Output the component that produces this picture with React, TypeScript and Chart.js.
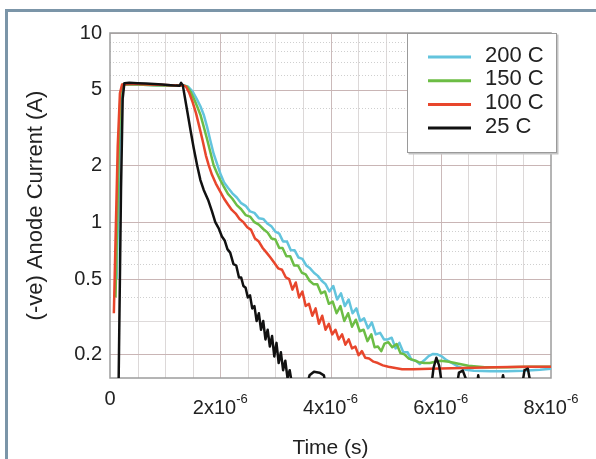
import React, { useEffect, useRef } from "react";
import { Chart, registerables } from "chart.js";

Chart.register(...registerables);

// ---------- data (time in microseconds, current in A) ----------
const seriesLabels = ["200 C", "150 C", "100 C", "25 C"];
const seriesColors = ["#63c4dd", "#6cbd45", "#e8462c", "#111111"];

const yTickValues = [0.2, 0.5, 1, 2, 5, 10];
const xTickValuesMicro = [0, 2, 4, 6, 8];
const xTickBase = ["0", "2x10", "4x10", "6x10", "8x10"];
const xTickExp = ["", "-6", "-6", "-6", "-6"];

const curve200C: [number, number][] = [
  [0.12, 0.5], [0.15, 1.2], [0.18, 3.0], [0.21, 4.9], [0.25, 5.35], [0.4, 5.36], [0.6, 5.33], [0.8, 5.3],
  [1.0, 5.28], [1.2, 5.27], [1.33, 5.3], [1.42, 5.2], [1.5, 4.9], [1.57, 4.5], [1.64, 4.1], [1.7, 3.7],
  [1.76, 3.2], [1.82, 2.7], [1.88, 2.3], [1.95, 2.0], [2.01, 1.78], [2.07, 1.62], [2.14, 1.52], [2.22, 1.42],
  [2.3, 1.35], [2.38, 1.26], [2.46, 1.22], [2.54, 1.14], [2.62, 1.12], [2.7, 1.05], [2.78, 1.04], [2.86, 0.98],
  [2.93, 0.95], [3.0, 0.89], [3.07, 0.87], [3.14, 0.79], [3.21, 0.79], [3.28, 0.71], [3.35, 0.71], [3.42, 0.65],
  [3.49, 0.64], [3.56, 0.59], [3.63, 0.57], [3.7, 0.54], [3.77, 0.52], [3.84, 0.49], [3.91, 0.47], [3.98, 0.43],
  [4.05, 0.46], [4.12, 0.39], [4.19, 0.42], [4.26, 0.36], [4.33, 0.39], [4.4, 0.33], [4.47, 0.35], [4.54, 0.3],
  [4.61, 0.31], [4.68, 0.275], [4.75, 0.295], [4.82, 0.255], [4.9, 0.26], [4.97, 0.24], [5.04, 0.24], [5.11, 0.245],
  [5.18, 0.215], [5.25, 0.23], [5.32, 0.205], [5.4, 0.205], [5.47, 0.187], [5.55, 0.185], [5.62, 0.178], [5.7, 0.186],
  [5.78, 0.196], [5.86, 0.201], [5.94, 0.2], [6.02, 0.195], [6.1, 0.187], [6.2, 0.18], [6.32, 0.172], [6.45, 0.166],
  [6.6, 0.164], [6.9, 0.163], [7.2, 0.163], [7.5, 0.164], [7.8, 0.166], [8.0, 0.168],
];

const curve150C: [number, number][] = [
  [0.1, 0.4], [0.13, 1.0], [0.16, 2.6], [0.19, 4.8], [0.23, 5.35], [0.4, 5.36], [0.6, 5.33], [0.8, 5.3],
  [1.0, 5.28], [1.2, 5.27], [1.32, 5.3], [1.4, 5.2], [1.46, 4.9], [1.52, 4.5], [1.58, 4.1], [1.64, 3.7],
  [1.7, 3.2], [1.76, 2.75], [1.82, 2.35], [1.88, 2.0], [1.94, 1.82], [2.0, 1.67], [2.07, 1.53], [2.14, 1.41],
  [2.22, 1.33], [2.3, 1.23], [2.38, 1.17], [2.46, 1.09], [2.54, 1.07], [2.62, 1.0], [2.7, 0.97], [2.78, 0.92],
  [2.86, 0.88], [2.93, 0.82], [3.0, 0.81], [3.07, 0.73], [3.13, 0.73], [3.2, 0.66], [3.27, 0.66], [3.34, 0.59],
  [3.41, 0.59], [3.48, 0.54], [3.55, 0.53], [3.62, 0.49], [3.69, 0.47], [3.76, 0.47], [3.83, 0.42], [3.9, 0.43],
  [3.97, 0.37], [4.04, 0.38], [4.11, 0.33], [4.18, 0.36], [4.25, 0.3], [4.32, 0.33], [4.39, 0.28], [4.46, 0.305],
  [4.53, 0.265], [4.6, 0.27], [4.67, 0.235], [4.74, 0.255], [4.8, 0.218], [4.86, 0.22], [4.92, 0.208], [4.98, 0.228],
  [5.05, 0.232], [5.12, 0.218], [5.2, 0.227], [5.27, 0.203], [5.34, 0.2], [5.42, 0.19], [5.5, 0.187], [5.6, 0.182],
  [5.7, 0.18], [5.8, 0.18], [5.9, 0.183], [6.0, 0.185], [6.15, 0.183], [6.3, 0.179], [6.5, 0.174], [6.8, 0.171],
  [7.2, 0.171], [7.6, 0.172], [8.0, 0.172],
];

const curve100C: [number, number][] = [
  [0.07, 0.33], [0.1, 0.8], [0.14, 2.5], [0.18, 4.8], [0.22, 5.35], [0.35, 5.38], [0.5, 5.37], [0.7, 5.34],
  [0.9, 5.32], [1.1, 5.3], [1.25, 5.28], [1.32, 5.3], [1.38, 5.2], [1.44, 4.8], [1.5, 4.3], [1.56, 3.77],
  [1.62, 3.2], [1.68, 2.7], [1.74, 2.25], [1.79, 2.0], [1.85, 1.78], [1.92, 1.6], [2.0, 1.45], [2.07, 1.33],
  [2.14, 1.24], [2.21, 1.16], [2.28, 1.11], [2.35, 1.04], [2.42, 1.0], [2.49, 0.94], [2.56, 0.91], [2.63, 0.82],
  [2.7, 0.79], [2.77, 0.73], [2.84, 0.69], [2.91, 0.65], [2.98, 0.61], [3.05, 0.57], [3.12, 0.56], [3.19, 0.51],
  [3.25, 0.5], [3.31, 0.44], [3.37, 0.48], [3.43, 0.4], [3.49, 0.43], [3.55, 0.36], [3.61, 0.37], [3.67, 0.32],
  [3.73, 0.35], [3.79, 0.29], [3.85, 0.32], [3.91, 0.27], [3.97, 0.29], [4.03, 0.255], [4.09, 0.27], [4.15, 0.24],
  [4.21, 0.255], [4.27, 0.225], [4.33, 0.24], [4.39, 0.215], [4.45, 0.22], [4.51, 0.198], [4.57, 0.208], [4.63, 0.192],
  [4.7, 0.19], [4.78, 0.183], [4.86, 0.18], [4.95, 0.175], [5.05, 0.172], [5.15, 0.17], [5.3, 0.167], [5.5, 0.167],
  [5.8, 0.168], [6.2, 0.169], [6.6, 0.17], [7.0, 0.171], [7.5, 0.172], [8.0, 0.172],
];

const curve25C: [number, number][] = [
  [0.0, 0.1], [0.15, 0.1], [0.17, 0.3], [0.2, 1.5], [0.23, 4.5], [0.26, 5.42], [0.35, 5.45], [0.5, 5.43],
  [0.65, 5.4], [0.8, 5.38], [0.95, 5.35], [1.1, 5.3], [1.2, 5.27], [1.26, 5.26], [1.29, 5.45], [1.32, 5.3],
  [1.38, 4.2], [1.46, 3.07], [1.52, 2.45], [1.58, 2.0], [1.64, 1.67], [1.7, 1.48], [1.78, 1.31], [1.85, 1.14],
  [1.91, 1.0], [1.97, 0.93], [2.03, 0.84], [2.08, 0.8], [2.13, 0.72], [2.18, 0.69], [2.24, 0.6], [2.29, 0.59],
  [2.34, 0.51], [2.38, 0.51], [2.42, 0.46], [2.46, 0.45], [2.5, 0.4], [2.54, 0.41], [2.58, 0.35], [2.62, 0.36],
  [2.66, 0.3], [2.7, 0.33], [2.74, 0.27], [2.78, 0.3], [2.82, 0.24], [2.86, 0.27], [2.9, 0.22], [2.94, 0.25],
  [2.98, 0.195], [3.02, 0.23], [3.06, 0.18], [3.1, 0.205], [3.14, 0.165], [3.18, 0.185], [3.22, 0.15], [3.26, 0.165],
  [3.3, 0.14], [3.4, 0.12], [3.55, 0.13], [3.62, 0.155], [3.7, 0.162], [3.8, 0.16], [3.88, 0.155], [3.93, 0.13],
  [4.5, 0.12], [5.0, 0.13], [5.5, 0.12], [5.82, 0.13], [5.87, 0.17], [5.92, 0.192], [5.97, 0.175], [6.02, 0.14],
  [6.1, 0.12], [6.28, 0.13], [6.33, 0.16], [6.4, 0.164], [6.45, 0.15], [6.5, 0.13], [6.66, 0.14], [6.68, 0.155],
  [6.7, 0.14], [6.9, 0.12], [7.1, 0.14], [7.13, 0.155], [7.16, 0.14], [7.4, 0.12], [7.48, 0.14], [7.52, 0.165],
  [7.58, 0.168], [7.62, 0.145], [7.7, 0.12], [8.0, 0.12],
];

const allCurves = [curve200C, curve150C, curve100C, curve25C];
const drawOrder = [3, 2, 1, 0];

const FONT = "'Liberation Sans', Arial, Helvetica, sans-serif";
const TEXT = "#222222";

const framePlugin = {
  id: "frame",
  beforeDraw(chart: any) {
    const { ctx, width, height } = chart;
    ctx.save();
    ctx.fillStyle = "#ffffff";
    ctx.fillRect(0, 0, width, height);
    ctx.fillStyle = "#7b95a8";
    ctx.fillRect(5, 9, width - 5, 3);
    ctx.fillRect(5, 9, 3, height - 9);
    ctx.restore();
  },
};

const gridPlugin = {
  id: "customGrid",
  beforeDatasetsDraw(chart: any) {
    const { ctx, chartArea, scales } = chart;
    const { left, right, top, bottom } = chartArea;
    const xs = scales.x;
    const ys = scales.y;
    ctx.save();
    ctx.lineWidth = 1;
    for (let k = 1; k < 16; k++) {
      const v = k * 0.5e-6;
      const px = Math.round(xs.getPixelForValue(v)) + 0.5;
      const major = k % 4 === 0;
      ctx.setLineDash([]);
      ctx.strokeStyle = major ? "#cbbaba" : "#dcd8d8";
      ctx.beginPath();
      ctx.moveTo(px, top);
      ctx.lineTo(px, bottom);
      ctx.stroke();
    }
    const decades = [0.1, 1];
    const vals: number[] = [];
    decades.forEach((d) => {
      for (let m = 1; m <= 9; m++) vals.push(m * d);
    });
    vals.push(10);
    vals.forEach((v) => {
      if (v < ys.min || v > ys.max) return;
      const py = Math.round(ys.getPixelForValue(v)) + 0.5;
      const major = yTickValues.some((t) => Math.abs(t - v) < 1e-9);
      const m = Math.round(v / (v < 1 ? 0.1 : 1));
      if (major) {
        ctx.setLineDash([]);
        ctx.strokeStyle = "#c9b5b5";
      } else if (m === 3 || m === 1) {
        ctx.setLineDash([]);
        ctx.strokeStyle = "#dedada";
      } else {
        ctx.setLineDash([1, 2]);
        ctx.strokeStyle = "#cfcfcf";
      }
      ctx.beginPath();
      ctx.moveTo(left, py);
      ctx.lineTo(right, py);
      ctx.stroke();
    });
    ctx.setLineDash([]);
    ctx.strokeStyle = "#9c9c9c";
    ctx.lineWidth = 1.5;
    ctx.strokeRect(left, top, right - left, bottom - top);
    ctx.restore();
  },
};

const xLabelPlugin = {
  id: "xLabels",
  afterDraw(chart: any) {
    const { ctx, scales } = chart;
    const xs = scales.x;
    ctx.save();
    ctx.fillStyle = TEXT;
    ctx.textBaseline = "alphabetic";
    ctx.textAlign = "left";
    xTickValuesMicro.forEach((v, i) => {
      const px = xs.getPixelForValue(v * 1e-6);
      const base = xTickBase[i];
      const exp = xTickExp[i];
      ctx.font = `20px ${FONT}`;
      const wb = ctx.measureText(base).width;
      ctx.font = `13px ${FONT}`;
      const we = exp ? ctx.measureText(exp).width : 0;
      const start = px - (wb + we) / 2;
      ctx.font = `20px ${FONT}`;
      if (exp) {
        ctx.fillText(base, start, 414);
        ctx.font = `13px ${FONT}`;
        ctx.fillText(exp, start + wb, 403);
      } else {
        ctx.fillText(base, start, 405);
      }
    });
    ctx.restore();
  },
};

const legendPlugin = {
  id: "boxLegend",
  afterDraw(chart: any) {
    const { ctx } = chart;
    const bx = 407, by = 33, bw = 150, bh = 120;
    ctx.save();
    ctx.fillStyle = "#c4c4c4";
    ctx.fillRect(bx + 1.5, by + 1.5, bw, bh);
    ctx.fillStyle = "#ffffff";
    ctx.fillRect(bx, by, bw, bh);
    ctx.strokeStyle = "#9a9a9a";
    ctx.lineWidth = 1;
    ctx.strokeRect(bx + 0.5, by + 0.5, bw - 1, bh - 1);
    chart.data.datasets.forEach((ds: any, i: number) => {
      const yLine = 57 + i * 23.7;
      ctx.strokeStyle = ds.borderColor;
      ctx.lineWidth = 3;
      ctx.beginPath();
      ctx.moveTo(428, yLine);
      ctx.lineTo(471, yLine);
      ctx.stroke();
      ctx.fillStyle = TEXT;
      ctx.font = `22px ${FONT}`;
      ctx.textAlign = "left";
      ctx.textBaseline = "middle";
      ctx.fillText(ds.label, 485, yLine - 1.5);
    });
    ctx.restore();
  },
};

export default function App() {
  const canvasRef = useRef<HTMLCanvasElement | null>(null);

  useEffect(() => {
    document.body.style.margin = "0";
    const canvas = canvasRef.current;
    if (!canvas) return;
    const datasets = allCurves.map((curve, i) => ({
      label: seriesLabels[i],
      data: curve.map(([t, v]) => ({ x: t * 1e-6, y: v })),
      borderColor: seriesColors[i],
      backgroundColor: seriesColors[i],
      borderWidth: 2.5,
      pointRadius: 0,
      tension: 0,
      fill: false,
      borderJoinStyle: "round" as const,
      order: drawOrder[i],
    }));
    const chart = new Chart(canvas, {
      type: "line",
      data: { datasets },
      plugins: [framePlugin, gridPlugin, xLabelPlugin, legendPlugin],
      options: {
        animation: false,
        responsive: false,
        devicePixelRatio: 1,
        layout: { padding: { top: 33, right: 45, left: 0, bottom: 0 } },
        plugins: { legend: { display: false }, tooltip: { enabled: false }, title: { display: false } },
        scales: {
          x: {
            type: "linear",
            min: 0,
            max: 8e-6,
            grid: { display: false, drawTicks: false },
            border: { display: false },
            ticks: { display: false },
            title: {
              display: true,
              text: "Time (s)",
              color: TEXT,
              font: { family: FONT, size: 21, lineHeight: 1 },
              padding: { top: 0, bottom: 0 },
            },
            afterFit: (s: any) => {
              s.height = 81;
            },
          },
          y: {
            type: "logarithmic",
            min: 0.15,
            max: 10,
            position: "left",
            grid: { display: false, drawTicks: false },
            border: { display: false },
            afterBuildTicks: (s: any) => {
              s.ticks = yTickValues.map((v) => ({ value: v }));
            },
            ticks: {
              autoSkip: false,
              padding: 8,
              color: TEXT,
              font: { family: FONT, size: 20 },
              callback: (v: any) => String(v),
            },
            title: {
              display: true,
              text: "(-ve) Anode Current (A)",
              color: TEXT,
              font: { family: FONT, size: 22 },
              padding: { top: 23, bottom: 0 },
            },
            afterFit: (s: any) => {
              s.width = 110;
            },
          },
        },
      },
    } as any);
    return () => chart.destroy();
  }, []);

  return (
    <div style={{ width: 596, height: 459 }}>
      <canvas ref={canvasRef} width={596} height={459} style={{ display: "block", width: 596, height: 459 }} />
    </div>
  );
}
